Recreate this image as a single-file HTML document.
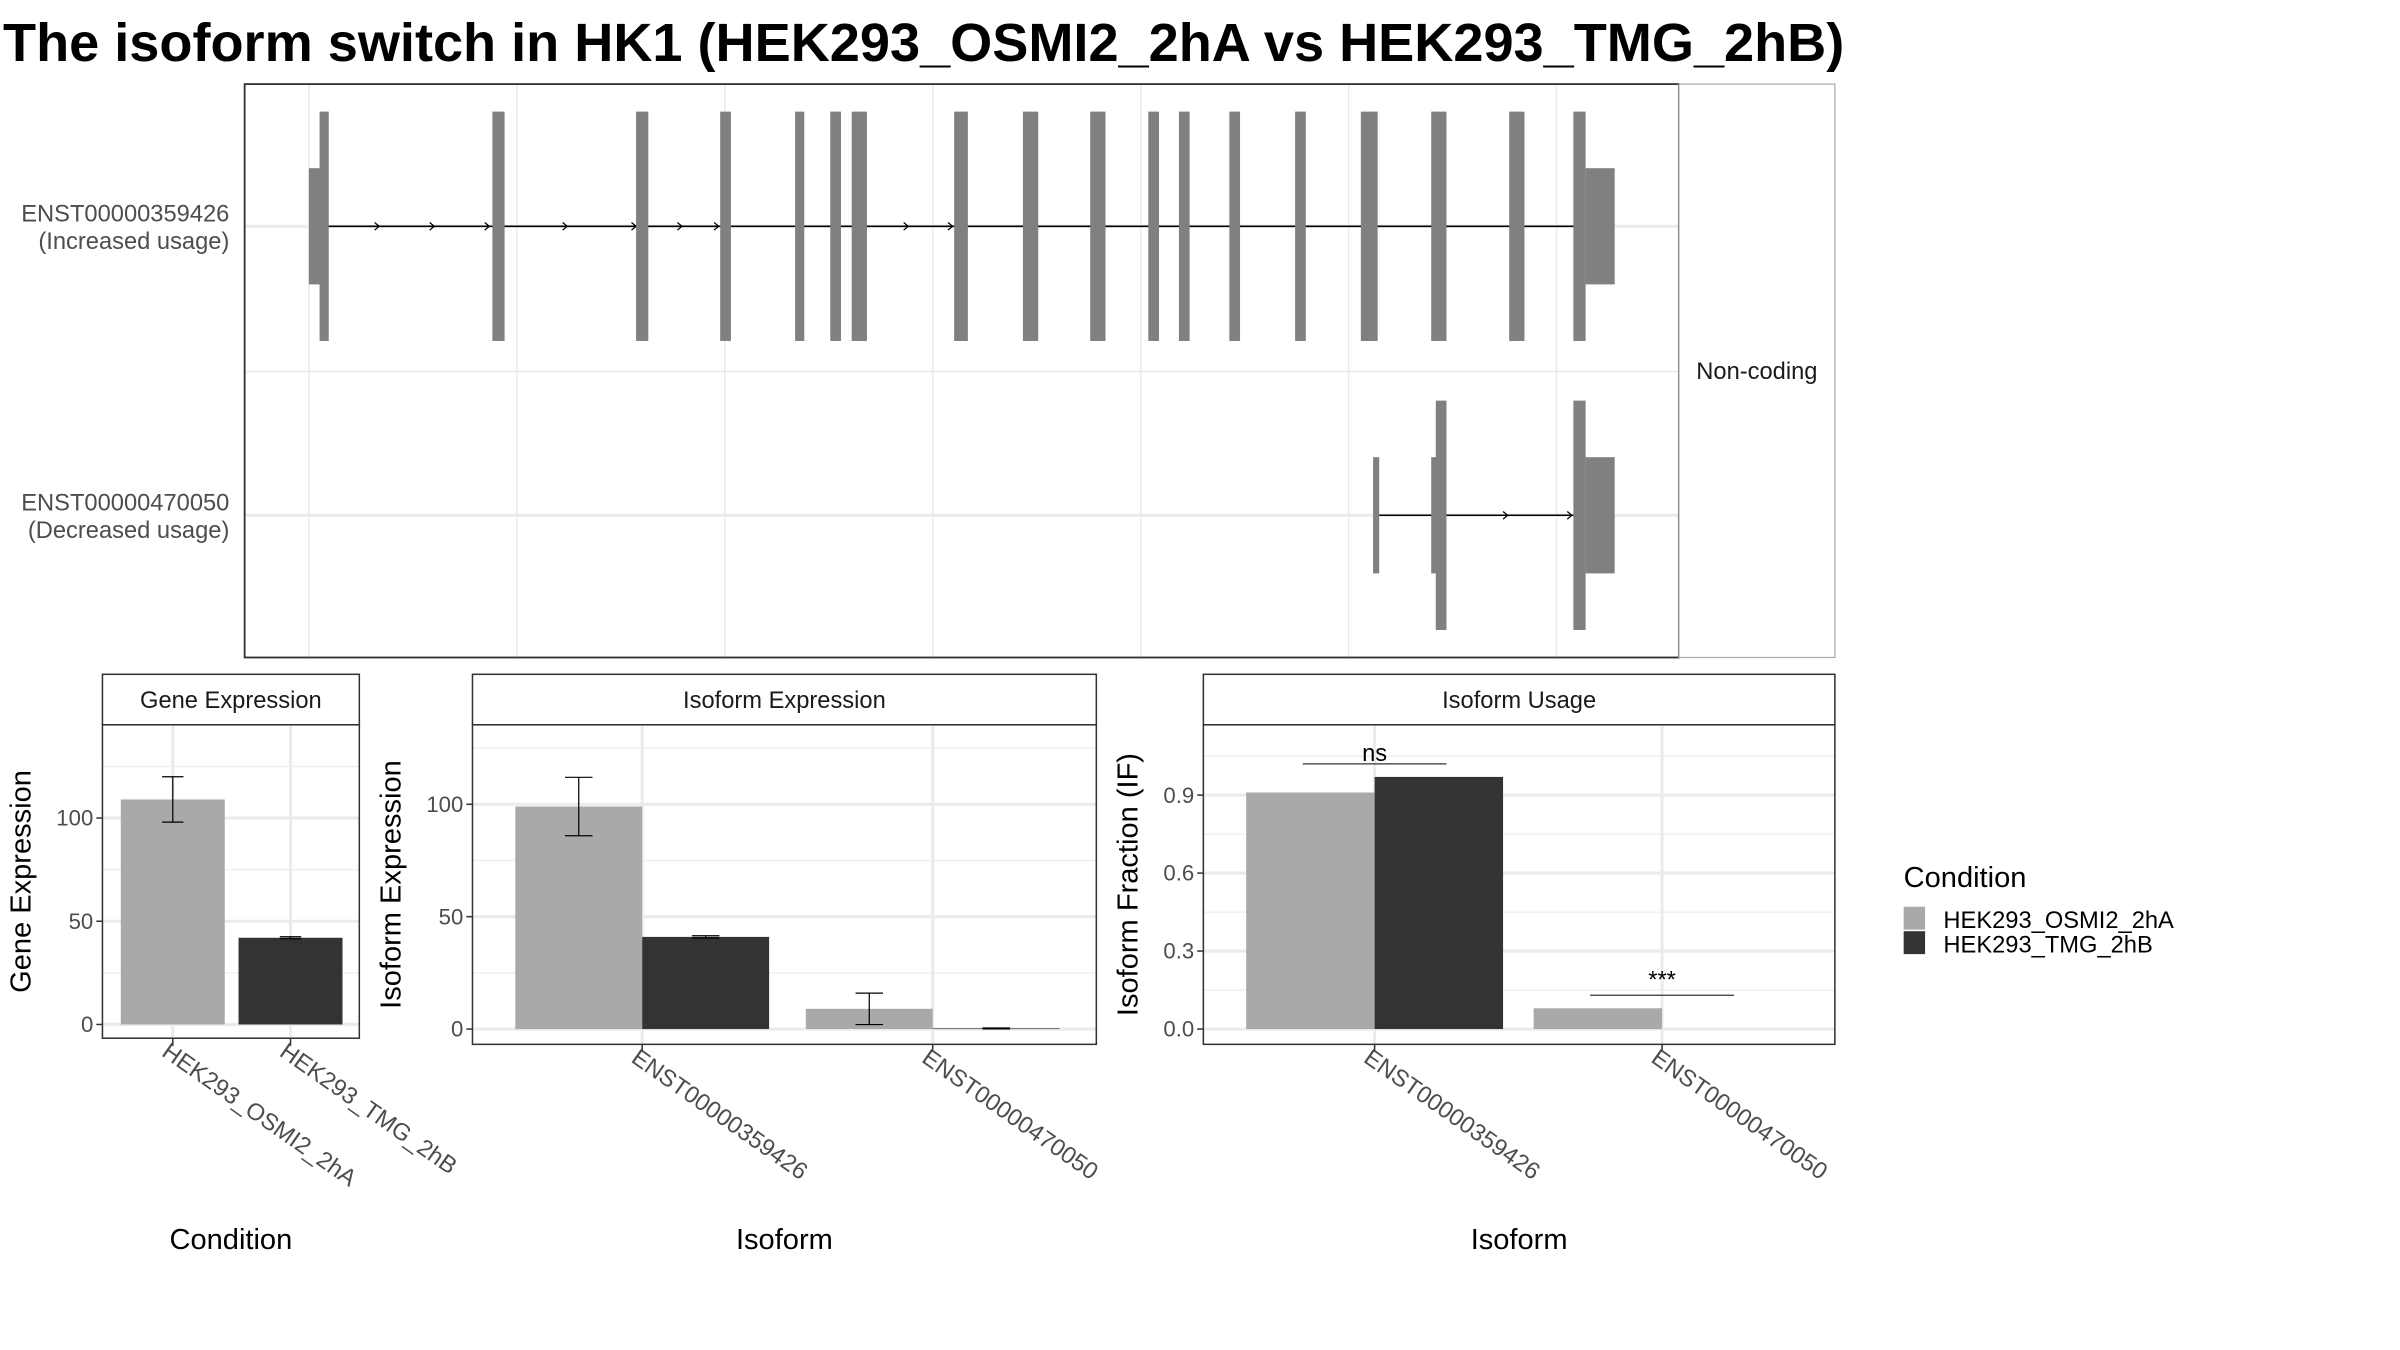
<!DOCTYPE html>
<html><head><meta charset="utf-8"><style>
html,body{margin:0;padding:0;background:#fff}
svg{display:block}
text{font-family:"Liberation Sans",Arial,sans-serif}
</style></head><body>
<svg id="chart" width="2400" height="1350" viewBox="0 0 1569.6 882.9" xmlns="http://www.w3.org/2000/svg">
<rect width="1569.6" height="882.9" fill="#fff"/>
<text x="2" y="40" font-size="35.4" font-weight="bold" fill="#000">The isoform switch in HK1 (HEK293_OSMI2_2hA vs HEK293_TMG_2hB)</text>
<g id="topG"></g>
<g id="ge"></g>
<g id="ie"></g>
<g id="iu"></g>
<g>
<text x="1245" y="580" font-size="19" fill="#000">Condition</text>
<rect x="1245" y="593" width="14" height="15" fill="#A9A9A9"/>
<rect x="1245" y="609" width="14" height="15" fill="#333"/>
<text x="1271" y="607" font-size="15.5" fill="#000">HEK293_OSMI2_2hA</text>
<text x="1271" y="623" font-size="15.5" fill="#000">HEK293_TMG_2hB</text>
</g>
</svg>
<script>
const NS="http://www.w3.org/2000/svg";
// transcript structure data (genomic positions, in panel units)
const tx1Exons=[[209,215],[322,330],[416,424],[471,478],[520,526],[543,550],[557,567],[624,633],[669,679],[713,723],[751,758],[771,778],[804,811],[847,854],[890,901],[936,946],[987,997],[1029,1037]];
const tx1Utr=[[202,210],[1037,1056]];
const tx1Arrows=[248,284,320,371,416,446,470,594,623];
const tx2Exons=[[939,946],[1029,1037]];
const tx2Utr=[[898,902],[936,940],[1037,1056]];
const tx2Arrows=[986,1028];
// gene expression
const geCats=["HEK293_OSMI2_2hA","HEK293_TMG_2hB"];
const geVals=[109,42];
const geLo=[98,41.5];
const geHi=[120,42.5];
const geTicks=[0,50,100];
// isoform expression
const isoCats=["ENST00000359426","ENST00000470050"];
const ieOsmi=[99,9];
const ieTmg=[41,0.3];
const ieOsmiLo=[86,2];
const ieOsmiHi=[112,16];
const ieTmgLo=[40.5,0.1];
const ieTmgHi=[41.5,0.5];
const ieTicks=[0,50,100];
// isoform usage
const iuOsmi=[0.91,0.08];
const iuTmg=[0.97,0];
const iuTicks=[0,0.3,0.6,0.9];
const iuTickLabels=["0.0","0.3","0.6","0.9"];
const iuSig=["ns","***"];
const iuSigY=[1.02,0.13];

function el(tag,attrs,parent,text){const e=document.createElementNS(NS,tag);for(const k in attrs)e.setAttribute(k,attrs[k]);if(text!==undefined)e.textContent=text;parent.appendChild(e);return e;}

// ---- top panel
const topG=document.getElementById('topG');
const P={x0:160,x1:1098,y0:55,y1:430};
el('rect',{x:P.x0,y:P.y0,width:P.x1-P.x0,height:P.y1-P.y0,fill:'#fff'},topG);
[202,338,474,610,746,882,1018].forEach(x=>{const g=el('line',{x1:x,x2:x,y1:P.y0,y2:P.y1,stroke:'#EBEBEB','stroke-width':1},topG);});
[148,337].forEach(y=>el('line',{x1:P.x0,x2:P.x1,y1:y,y2:y,stroke:'#EBEBEB','stroke-width':2},topG));
el('line',{x1:P.x0,x2:P.x1,y1:243,y2:243,stroke:'#EBEBEB','stroke-width':1},topG);
function drawTx(exons,utr,arrows,cy,name){
  const g=el('g',{},topG);
  
  
  const all=exons.concat(utr);
  const mn=Math.min(...all.map(e=>e[1])),mx=Math.max(...all.map(e=>e[0]));
  el('line',{x1:mn,x2:mx,y1:cy,y2:cy,stroke:'#000','stroke-width':1},g);
  arrows.forEach(a=>{const p=el('path',{d:`M${a-3},${cy-2.5} L${a},${cy} L${a-3},${cy+2.5}`,fill:'none',stroke:'#000','stroke-width':0.8},g);});
  utr.forEach(e=>{const r=el('rect',{x:e[0],y:cy-38,width:e[1]-e[0],height:76,fill:'#808080'},g);});
  exons.forEach(e=>{const r=el('rect',{x:e[0],y:cy-75,width:e[1]-e[0],height:150,fill:'#808080'},g);});
}
drawTx(tx1Exons,tx1Utr,tx1Arrows,148,'transcript-enst00000359426');
drawTx(tx2Exons,tx2Utr,tx2Arrows,337,'transcript-enst00000470050');
el('rect',{x:P.x0,y:P.y0,width:P.x1-P.x0,height:P.y1-P.y0,fill:'none',stroke:'#333','stroke-width':1.2},topG);
el('rect',{x:P.x1,y:P.y0,width:102,height:P.y1-P.y0,fill:'#fff',stroke:'#aaa','stroke-width':0.8},topG);
el('text',{x:1149,y:248,'font-size':15.5,'text-anchor':'middle',fill:'#1a1a1a'},topG,'Non-coding');
[[148,'ENST00000359426','(Increased usage)'],[337,'ENST00000470050','(Decreased usage)']].forEach(t=>{
  const a=el('text',{x:150,y:t[0]-3,'font-size':15.5,'text-anchor':'end',fill:'#4d4d4d'},topG,t[1]);
  el('text',{x:150,y:t[0]+15,'font-size':15.5,'text-anchor':'end',fill:'#4d4d4d'},topG,t[2]);
});

// ---- bar panel helper
function panel(gid,box,stripTitle,yfun,ticks,tickLabels,minor,xTicks,xLabels,xTitle,yTitle,yTitleX){
  const g=document.getElementById(gid);
  el('rect',{x:box.x0,y:box.s0,width:box.x1-box.x0,height:box.y0-box.s0,fill:'#fff',stroke:'#333','stroke-width':1},g);
  el('text',{x:(box.x0+box.x1)/2,y:box.s0+22,'font-size':15.5,'text-anchor':'middle',fill:'#1a1a1a'},g,stripTitle);
  minor.forEach(v=>el('line',{x1:box.x0,x2:box.x1,y1:yfun(v),y2:yfun(v),stroke:'#F0F0F0','stroke-width':1},g));
  ticks.forEach((v,i)=>{el('line',{x1:box.x0,x2:box.x1,y1:yfun(v),y2:yfun(v),stroke:'#EBEBEB','stroke-width':2},g);
    el('line',{x1:box.x0-4,x2:box.x0,y1:yfun(v),y2:yfun(v),stroke:'#333','stroke-width':1},g);
    const t=el('text',{x:box.x0-6,y:yfun(v)+5,'font-size':14.5,'text-anchor':'end',fill:'#4d4d4d'},g,tickLabels[i]);});
  xTicks.forEach((x,i)=>{el('line',{x1:x,x2:x,y1:box.y0,y2:box.y1,stroke:'#EBEBEB','stroke-width':2},g);
    el('line',{x1:x,x2:x,y1:box.y1,y2:box.y1+5,stroke:'#333','stroke-width':1},g);
    const t=el('text',{x:0,y:0,'font-size':15.5,fill:'#4d4d4d',transform:`translate(${x-8},${box.y1+11}) rotate(35)`},g,xLabels[i]);});
  const xt=el('text',{x:(box.x0+box.x1)/2,y:817,'font-size':19,'text-anchor':'middle',fill:'#000'},g,xTitle);
  const yt=el('text',{x:0,y:0,'font-size':19,'text-anchor':'middle',fill:'#000',transform:`translate(${yTitleX},${(box.y0+box.y1)/2}) rotate(-90)`},g,yTitle);
  return g;
}
function bar(g,x0,x1,y0,y1,fill,name){const r=el('rect',{x:x0,y:Math.min(y0,y1),width:x1-x0,height:Math.abs(y1-y0),fill:fill},g);}
function err(g,cx,ylo,yhi,w){const p=el('path',{d:`M${cx-w},${yhi}H${cx+w}M${cx},${yhi}V${ylo}M${cx-w},${ylo}H${cx+w}`,stroke:'#000','stroke-width':0.8,fill:'none'},g);}
function frame(g,box){el('rect',{x:box.x0,y:box.y0,width:box.x1-box.x0,height:box.y1-box.y0,fill:'none',stroke:'#333','stroke-width':1},g);}

// Gene expression
{const box={x0:67,x1:235,s0:441,y0:474,y1:679};
 const y=v=>670-v*1.35;
 const xc=[113,190];
 const g=panel('ge',box,'Gene Expression',y,geTicks,geTicks.map(String),[25,75,125],xc,geCats,'Condition','Gene Expression',20);
 const fills=['#A9A9A9','#333333'];
 geVals.forEach((v,i)=>{bar(g,xc[i]-34,xc[i]+34,y(0),y(v),fills[i],'bar-'+geCats[i].toLowerCase());err(g,xc[i],y(geLo[i]),y(geHi[i]),7);});
 frame(g,box);}

// Isoform expression
{const box={x0:309,x1:717,s0:441,y0:474,y1:683};
 const y=v=>673-v*1.47;
 const xc=[420,610];
 const g=panel('ie',box,'Isoform Expression',y,ieTicks,ieTicks.map(String),[25,75,125],xc,isoCats,'Isoform','Isoform Expression',262);
 isoCats.forEach((c,i)=>{
   bar(g,xc[i]-83,xc[i],y(0),y(ieOsmi[i]),'#A9A9A9','bar-osmi2-'+c.toLowerCase());
   bar(g,xc[i],xc[i]+83,y(0),y(ieTmg[i]),'#333333','bar-tmg-'+c.toLowerCase());
   err(g,xc[i]-41.5,y(ieOsmiLo[i]),y(ieOsmiHi[i]),9);
   err(g,xc[i]+41.5,y(ieTmgLo[i]),y(ieTmgHi[i]),9);
 });
 frame(g,box);}

// Isoform usage
{const box={x0:787,x1:1200,s0:441,y0:474,y1:683};
 const y=v=>673-v*170;
 const xc=[899,1087];
 const g=panel('iu',box,'Isoform Usage',y,iuTicks,iuTickLabels,[0.15,0.45,0.75,1.05],xc,isoCats,'Isoform','Isoform Fraction (IF)',744);
 isoCats.forEach((c,i)=>{
   bar(g,xc[i]-84,xc[i],y(0),y(iuOsmi[i]),'#A9A9A9','bar-osmi2-'+c.toLowerCase());
   bar(g,xc[i],xc[i]+84,y(0),y(iuTmg[i]),'#333333','bar-tmg-'+c.toLowerCase());
 });
 iuSig.forEach((s,i)=>{const x0=xc[i]-47;
   const l=el('line',{x1:x0,x2:x0+94,y1:y(iuSigY[i]),y2:y(iuSigY[i]),stroke:'#333','stroke-width':0.8},g);
   const t=el('text',{x:xc[i],y:y(iuSigY[i])-(i?5:2),'font-size':15.5,'text-anchor':'middle',fill:'#000'},g,s);});
 frame(g,box);}
</script>
</body></html>
